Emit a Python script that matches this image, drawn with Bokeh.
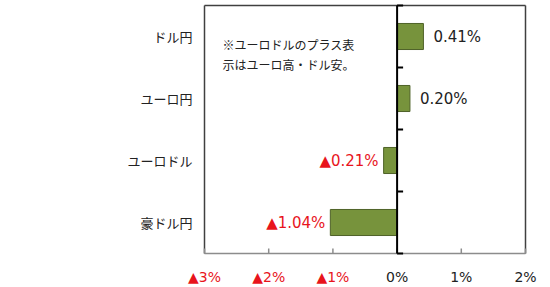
import math
from bokeh.plotting import figure
from bokeh.models import Range1d, ColumnDataSource
from bokeh.core.properties import value as V
from bokeh.embed import file_html
from bokeh.resources import INLINE

# ---- data ----
categories = ["ドル円", "ユーロ円", "ユーロドル", "豪ドル円"]
values = [0.41, 0.20, -0.21, -1.04]
x_ticks = [-3, -2, -1, 0, 1, 2]
x_tick_labels = ["▲3%", "▲2%", "▲1%", "0%", "1%", "2%"]
note_lines = ["※ユーロドルのプラス表", "示はユーロ高・ドル安。"]

n = len(categories)
ypos = [n - 0.5 - i for i in range(n)]
boundaries = list(range(n + 1))
xmin, xmax = x_ticks[0], x_ticks[-1]

JP = "Noto Sans CJK JP"
NUM = "DejaVu Sans"
RED = "#E8141C"
INK = "#222222"
BOX = "#404040"
AXG = "#8C8C8C"

W, H = 550, 287
box_l, box_r, box_t, box_b = 204, 525, 5, 253          # plotting box in pixels
ppx = (box_r - box_l) / (xmax - xmin)                    # pixels per x unit
ppy = (box_b - box_t) / n                                # pixels per y unit

# the frame covers the whole canvas so that all texts can be drawn as glyphs
p = figure(width=W, height=H, output_backend="svg", toolbar_location=None,
           x_range=Range1d(xmin - box_l / ppx, xmax + (W - box_r) / ppx),
           y_range=Range1d(-(H - box_b) / ppy, n + box_t / ppy),
           min_border=0)
p.background_fill_color = "white"
p.border_fill_color = "white"
p.outline_line_color = None
p.xgrid.visible = False
p.ygrid.visible = False
p.xaxis.visible = False
p.yaxis.visible = False

# plotting box: dark left/top/right, gray bottom axis with inward ticks
p.segment(x0=[xmin, xmin, xmax], y0=[0, n, n], x1=[xmin, xmax, xmax], y1=[n, n, 0],
          line_color=BOX, line_width=1.5)
p.segment(x0=[xmin], y0=[0], x1=[xmax], y1=[0], line_color=AXG, line_width=1.5)
p.ray(x=x_ticks, y=[0] * len(x_ticks), length=5, length_units="screen",
      angle=math.pi / 2, line_color=AXG, line_width=1.5)

# bars
src = ColumnDataSource(dict(y=ypos, v=values, zero=[0] * n))
p.hbar(y="y", left="zero", right="v", height=0.42, source=src,
       fill_color="#77933C", line_color="#4F6228", line_width=1)

# zero line with boundary ticks
p.segment(x0=[0], y0=[0], x1=[0], y1=[n], line_color="black", line_width=2)
p.ray(x=[0] * len(boundaries), y=boundaries, length=6, length_units="screen",
      angle=0, line_color="black", line_width=2)

# category labels
p.text(x=[xmin] * n, y=ypos, text=categories, x_offset=-12,
       text_align="right", text_baseline="middle", text_font=V(JP),
       text_font_size="13px", text_color=INK)

# value labels
pos = [(y, v) for y, v in zip(ypos, values) if v >= 0]
neg = [(y, v) for y, v in zip(ypos, values) if v < 0]
p.text(x=[v for _, v in pos], y=[y for y, _ in pos],
       text=[f"{v:.2f}%" for _, v in pos], x_offset=10,
       text_align="left", text_baseline="middle", text_font=V(NUM),
       text_font_size="15px", text_color=INK)
p.text(x=[v for _, v in neg], y=[y for y, _ in neg],
       text=[f"▲{abs(v):.2f}%" for _, v in neg], x_offset=-5,
       text_align="right", text_baseline="middle", text_font=V(NUM),
       text_font_size="15px", text_color=RED)

# x tick labels (colored)
tsrc = ColumnDataSource(dict(x=x_ticks, y=[0] * len(x_ticks), t=x_tick_labels,
                             c=[RED if t < 0 else INK for t in x_ticks]))
p.text(x="x", y="y", text="t", text_color="c", source=tsrc, y_offset=23,
       text_align="center", text_baseline="middle",
       text_font=V(NUM), text_font_size="14px")

# note (top-left of the box)
p.text(x=[xmin] * len(note_lines), y=[n] * len(note_lines), text=note_lines,
       x_offset=18, y_offset=[39 + 20 * i for i in range(len(note_lines))],
       text_align="left", text_baseline="middle", text_font=V(JP),
       text_font_size="12px", text_color=INK)

open("out.html", "w").write(file_html(p, INLINE))
